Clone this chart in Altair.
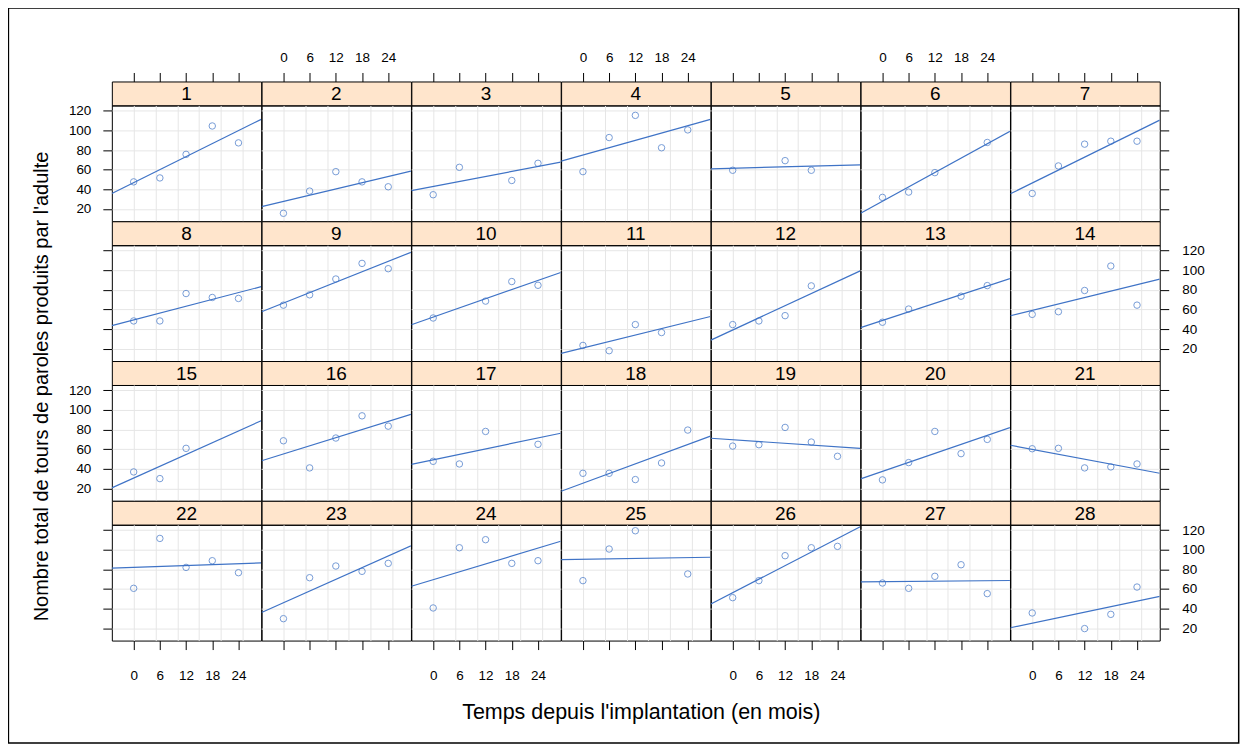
import altair as alt
import pandas as pd

# ---------------- data ----------------
mois = [0, 6, 12, 18, 24]
sujets = list(range(1, 29))

s01 = [47.6, 51.6, 75.6, 104.5, 87.3]
s02 = [15.6, 38.2, 58.0, 47.6, 42.6]
s03 = [34.5, 62.4, None, 49.0, 66.5]
s04 = [58.0, 92.7, 115.3, 82.3, 100.5]
s05 = [59.4, None, 69.2, 59.4, None]
s06 = [31.8, 37.2, 57.0, None, 87.7]
s07 = [35.8, 63.8, 86.0, 89.0, 89.0]
s08 = [48.3, 48.3, 76.2, 72.2, 71.2]
s09 = [64.4, 74.9, 91.0, 106.9, 101.5]
s10 = [51.3, None, 68.5, 88.4, 84.6]
s11 = [23.4, 18.0, 44.6, 36.5, None]
s12 = [44.6, 48.3, 53.7, 84.0, None]
s13 = [47.0, 60.4, None, 73.5, 84.3]
s14 = [55.0, 57.7, 79.3, 104.2, 64.4]
s15 = [36.9, 30.1, 60.9, None, None]
s16 = [68.6, 41.0, 71.4, 94.0, 83.5]
s17 = [47.7, 45.0, 78.1, None, 65.0]
s18 = [35.5, 35.5, 29.1, 46.0, 79.5]
s19 = [63.2, 64.6, 82.2, 67.3, 52.8]
s20 = [28.8, 46.4, 78.1, 55.5, 70.0]
s21 = [60.5, 60.9, 41.0, 42.0, 45.0]
s22 = [60.7, 111.5, 82.0, 88.8, 76.6]
s23 = [29.8, 71.5, 83.4, 78.0, 86.1]
s24 = [40.7, 102.0, 110.2, 86.1, 88.8]
s25 = [68.5, 100.7, 119.3, None, 75.3]
s26 = [51.2, 68.5, 93.9, 102.0, 103.4]
s27 = [66.1, 60.7, 72.9, 84.7, 55.3]
s28 = [35.6, None, 19.7, 34.2, 62.0]

series = [s01, s02, s03, s04, s05, s06, s07, s08, s09, s10, s11, s12, s13, s14,
          s15, s16, s17, s18, s19, s20, s21, s22, s23, s24, s25, s26, s27, s28]

ticks_x = [0, 6, 12, 18, 24]
ticks_y = [20, 40, 60, 80, 100, 120]
grille_x = [0, 5, 10, 15, 20, 25]
grille_y = [20, 40, 60, 80, 100, 120]

titre_x = "Temps depuis l'implantation (en mois)"
titre_y = "Nombre total de tours de paroles produits par l'adulte"

records = []
for sid, vals in zip(sujets, series):
    for t, v in zip(mois, vals):
        if v is not None:
            records.append({"sujet": sid, "temps": t, "tours": v})
df = pd.DataFrame(records)

# ---------------- style ----------------
W = 149.6
H_STRIP = 24
H_PANEL = 116
XDOM = [-5, 29.2]
YDOM = [7.5, 125.4]
BLUE = "#3f73c6"
STRIP = "#FFE5CC"
FONT = "Liberation Sans"
NCOL = 7
NROW = 4
LAB = 13.5

xs = alt.Scale(domain=XDOM, nice=False, zero=False)
ys = alt.Scale(domain=YDOM, nice=False, zero=False)


def grid_axis(orient, values):
    return alt.Axis(orient=orient, values=values, grid=True, gridColor="#e6e6e6",
                    gridWidth=1, ticks=False, labels=False, domain=False, title=None)


def tick_axis(orient, values, show_labels, pad, **kw):
    args = dict(orient=orient, values=values, grid=False, ticks=True, tickSize=9,
                tickColor="black", tickWidth=1, domain=False, labels=show_labels,
                labelFont=FONT, labelFontSize=LAB, labelColor="black",
                labelPadding=pad, labelOverlap=False, labelFlush=False)
    if "title" not in kw:
        args["title"] = None
    args.update(kw)
    return alt.Axis(**args)


def strip_chart(k, r, c):
    base = alt.Chart().transform_filter(alt.datum.sujet == k)
    txt = base.transform_aggregate(n="count()", groupby=["sujet"]).mark_text(
        font=FONT, fontSize=19, color="black", align="center", baseline="middle"
    ).encode(x=alt.value(W / 2), y=alt.value(H_STRIP / 2 + 1), text="sujet:N")
    layers = [txt]
    if r == 0:
        ax = base.mark_point(opacity=0).encode(
            x=alt.X("temps:Q", scale=xs,
                    axis=tick_axis("top", ticks_x, c % 2 == 1, 8)),
            y=alt.value(0),
        )
        layers.append(ax)
    if k == 1:
        frame = base.transform_aggregate(n="count()", groupby=["sujet"]).mark_rect(
            fillOpacity=0, stroke="black", strokeWidth=1.5
        ).encode(x=alt.value(-103.6), x2=alt.value(1128.7),
                 y=alt.value(-73.6), y2=alt.value(662.7))
        layers.append(frame)
    return alt.layer(*layers).properties(
        width=W, height=H_STRIP,
        view=alt.ViewBackground(fill=STRIP, stroke="black", strokeWidth=1),
    )


def panel_chart(k, r, c):
    base = alt.Chart().transform_filter(alt.datum.sujet == k)
    pts = base.mark_point(shape="circle", filled=False, size=42, strokeWidth=1,
                          color=BLUE).encode(
        x=alt.X("temps:Q", scale=xs, axis=grid_axis("bottom", grille_x)),
        y=alt.Y("tours:Q", scale=ys, axis=grid_axis("left", grille_y)),
    )
    if r == NROW - 1:
        kw = {}
        if c == 3:
            kw = dict(title=titre_x, titleFont=FONT, titleFontSize=21.5,
                      titleFontWeight="normal", titleColor="black",
                      titleX=W / 2 + 5, titleY=72, titleAlign="center",
                      titleBaseline="middle", titleAngle=0)
        xax = tick_axis("bottom", ticks_x, c % 2 == 0, 19, **kw)
    else:
        xax = None
    if c == 0:
        kw = {}
        if r == 1:
            kw = dict(title=titre_y, titleFont=FONT, titleFontSize=20,
                      titleFontWeight="normal", titleColor="black",
                      titleX=-70.3, titleY=141, titleAlign="center",
                      titleBaseline="middle", titleAngle=270)
        yax = tick_axis("left", ticks_y, r % 2 == 0, 12, **kw)
    elif c == NCOL - 1:
        yax = tick_axis("right", ticks_y, r % 2 == 1, 13)
    else:
        yax = None
    line = base.transform_regression("temps", "tours", extent=XDOM).mark_line(
        color=BLUE, strokeWidth=1.2, clip=True
    ).encode(
        x=alt.X("temps:Q", scale=xs, axis=xax),
        y=alt.Y("tours:Q", scale=ys, axis=yax),
    )
    return alt.layer(pts, line).resolve_axis(x="independent", y="independent").properties(
        width=W, height=H_PANEL
    )


cells = []
for r in range(NROW):
    for c in range(NCOL):
        cells.append(strip_chart(r * NCOL + c + 1, r, c))
    for c in range(NCOL):
        cells.append(panel_chart(r * NCOL + c + 1, r, c))

chart = alt.concat(*cells, columns=NCOL, spacing=0, bounds="flush", data=df).properties(
    padding={"left": -1, "top": -2, "right": 0, "bottom": 0}
).configure(font=FONT).configure_view(stroke="black", strokeWidth=1)

chart.save("out.html", embed_options={"renderer": "svg", "actions": False})
